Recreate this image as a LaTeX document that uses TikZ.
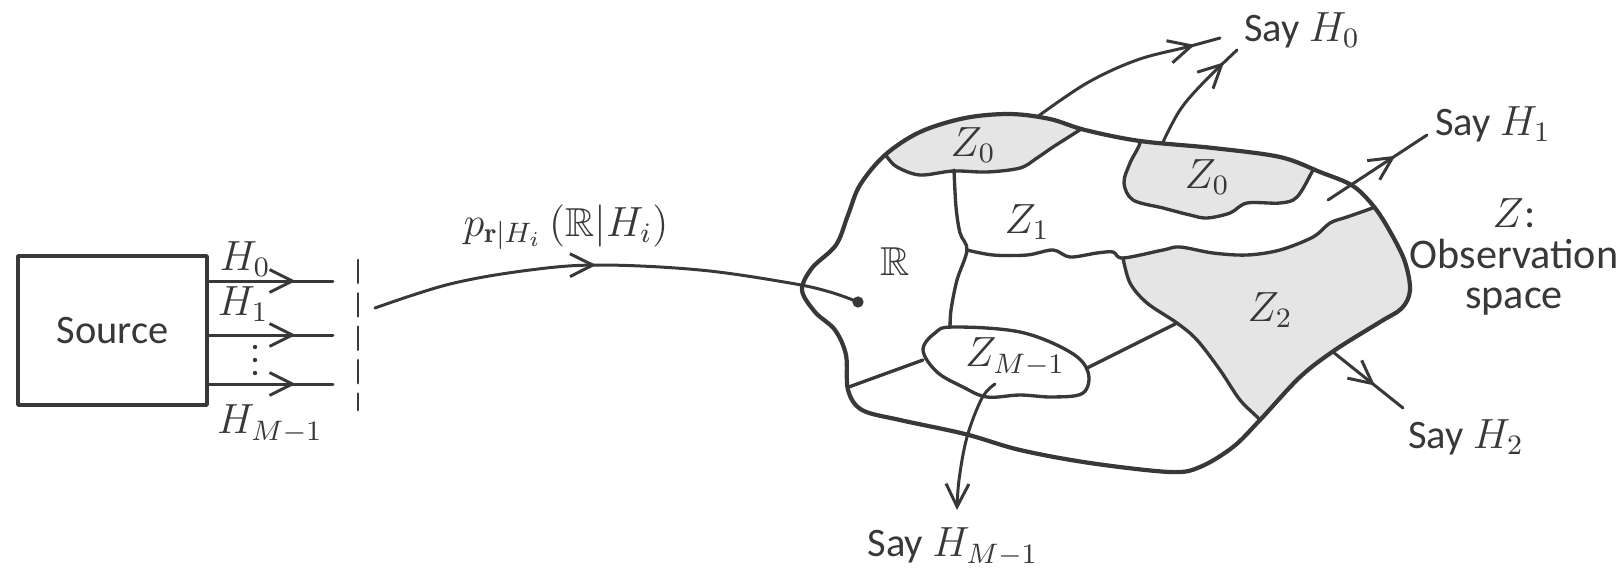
\documentclass[tikz,border=0pt]{standalone}
\usepackage{amssymb}
\usepackage{fontspec}
\setsansfont{Carlito}
\usetikzlibrary{arrows.meta,decorations.markings}
\definecolor{ink}{rgb}{0.22,0.22,0.22}
\definecolor{zonegray}{rgb}{0.9,0.9,0.9}
\tikzset{
  barb/.tip={Straight Barb[length=6.5pt,width=6.5pt]},
  txt/.style={font=\sffamily\fontsize{11.5}{11.8}\selectfont,text=ink,inner sep=1pt},
  outline/.style={draw=ink,line width=1.2pt,line join=round},
  seam/.style={draw=ink,line width=0.95pt,line join=round},
  wire/.style={draw=ink,line width=0.85pt},
  midarrow/.style={postaction={decorate},decoration={markings,mark=at position #1 with {\arrow[ink,line width=0.85pt]{barb}}}}
}
\begin{document}
\begin{tikzpicture}[line cap=round,line join=round,x=0.01cm,y=-0.01cm]
\useasboundingbox (0,0) rectangle (1621,581);
% source and its outputs
\node[draw=ink,line width=0.95pt,minimum width=1.89cm,minimum height=1.49cm,txt] (src) at (112.5,330.5) {Source};
\coordinate (h0) at (333,281);
\coordinate (h1) at (333,335);
\coordinate (hm) at (333,384);
\draw[wire,midarrow=0.7] (src.east |- h0) -- (h0);
\draw[wire,midarrow=0.7] (src.east |- h1) -- (h1);
\draw[wire,midarrow=0.7] (src.east |- hm) -- (hm);
\node[txt,inner sep=0pt] (lh0) at (245,259) {$H_0$};
\node[txt,inner sep=0pt] (lh1) at (243,304) {$H_1$};
\foreach \y in {347,360,373}
  \fill[ink] (255,\y) circle (2.2);
\node[txt,inner sep=0pt] (lhm) at (270,424) {$H_{M-1}$};
\draw[wire,dash pattern=on 6.5pt off 3pt] (358,260) -- (358,410);
% transition to the observation space
\node[txt] (trans) at (566,227) {$p_{\mathbf{r}|H_i}\,(\mathbb{R}|H_i)$};
\coordinate (tx) at (375,308);
\node[circle,fill=ink,inner sep=0pt,minimum size=3.2pt] (pt) at (858,302) {};
\draw[wire,midarrow=0.46] plot[smooth,tension=0.6] coordinates {(tx) (450,284) (530,270) (600,265) (700,270) (790,283) (830,292) (pt)};
% outer boundary
\def\outer{plot[smooth cycle,tension=0.55] coordinates {(802,290) (812,268) (836,245) (848,215) (860,185) (885,155) (920,132) (965,118) (1010,114) (1050,119) (1085,130) (1140,141) (1213,148) (1280,157) (1320,172) (1353,186) (1375,208) (1392,235) (1405,262) (1410,290) (1402,308) (1380,322) (1335,350) (1300,377) (1260,420) (1233,447) (1200,467) (1170,472) (1090,463) (1020,450) (965,434) (900,420) (862,410) (848,390) (846,355) (835,330) (815,312)}}
\begin{scope}
\clip \outer;
% shaded decision regions
\fill[zonegray] plot[smooth,tension=0.55] coordinates {(875,142) (887,157) (897,167) (920,175) (953,171) (987,172) (1020,168) (1037,158) (1053,147) (1075,133) (1092,122)} -- (1092,60) -- (875,60) -- cycle;
\fill[zonegray] plot[smooth,tension=0.55] coordinates {(1142,122) (1140,143) (1130,163) (1124,183) (1133,200) (1163,208) (1190,215) (1207,218) (1230,213) (1247,203) (1280,203) (1297,197) (1313,170) (1324,148)} -- (1324,60) -- (1142,60) -- cycle;
\fill[zonegray] plot[smooth,tension=0.55] coordinates {(1123,258) (1163,250) (1180,247) (1213,253) (1247,255) (1280,250) (1313,237) (1330,223) (1347,217) (1367,210) (1400,198)} -- (1470,198) -- (1470,480) -- (1280,445) -- plot[smooth,tension=0.55] coordinates {(1280,445) (1260,420) (1240,400) (1220,370) (1197,340) (1177,323) (1147,303) (1130,283) (1123,258)} -- cycle;
% region borders
\draw[seam] plot[smooth,tension=0.55] coordinates {(875,142) (887,157) (897,167) (920,175) (953,171) (987,172) (1020,168) (1037,158) (1053,147) (1075,133) (1092,122)};
\draw[seam] plot[smooth,tension=0.55] coordinates {(1142,122) (1140,143) (1130,163) (1124,183) (1133,200) (1163,208) (1190,215) (1207,218) (1230,213) (1247,203) (1280,203) (1297,197) (1313,170) (1324,148)};
\draw[seam] plot[smooth,tension=0.55] coordinates {(967,250) (993,255) (1027,255) (1053,250) (1070,257) (1097,253) (1113,252) (1123,258) (1163,250) (1180,247) (1213,253) (1247,255) (1280,250) (1313,237) (1330,223) (1347,217) (1367,210) (1400,198)};
\draw[seam] plot[smooth,tension=0.55] coordinates {(1123,258) (1130,283) (1147,303) (1177,323) (1197,340) (1220,370) (1240,400) (1260,420) (1280,445)};
\draw[seam] plot[smooth,tension=0.55] coordinates {(954,170) (956,207) (960,233) (967,250) (957,280) (951,310) (950,330)};
\draw[seam] (1177,323) -- (1087,368);
\draw[seam] (923,360) -- (835,392);
\draw[seam,fill=white] plot[smooth cycle,tension=0.6] coordinates {(923,350) (935,333) (953,327) (1020,332) (1070,352) (1088,372) (1083,393) (1053,397) (1020,395) (987,397) (963,387) (937,372)};
\end{scope}
\draw[outline] \outer;
% region names
\node[txt] (zr) at (895,262) {$\mathbb{R}$};
\node[txt] (za) at (973,145) {$Z_0$};
\node[txt] (zb) at (1207,177) {$Z_0$};
\node[txt] (zc) at (1027,222) {$Z_1$};
\node[txt] (zd) at (1270,310) {$Z_2$};
\node[txt] (ze) at (1015,357) {$Z_{M-1}$};
\node[txt,align=center,font=\sffamily\fontsize{12}{11.6}\selectfont] (obs) at (1514,257) {$Z$:\\Observation\\space};
% decisions
\node[txt] (say0) at (1302,30) {Say $H_0$};
\node[txt] (say1) at (1493,124) {Say $H_1$};
\node[txt] (say2) at (1466,437) {Say $H_2$};
\node[txt] (saym) at (953,547) {Say $H_{M-1}$};
\coordinate (a0) at (1037,117);
\coordinate (b0) at (1220,38);
\coordinate (a1) at (1163,142);
\coordinate (b1) at (1237,50);
\coordinate (a2) at (1328,200);
\coordinate (b2) at (1427,135);
\coordinate (a3) at (1333,352);
\coordinate (b3) at (1403,408);
\coordinate (a4) at (995,384);
\draw[wire,midarrow=0.87] plot[smooth,tension=0.6] coordinates {(a0) (1087,83) (1137,60) (1187,47) (b0)};
\draw[wire,midarrow=0.85] plot[smooth,tension=0.6] coordinates {(a1) (1180,110) (1203,83) (b1)};
\draw[wire,midarrow=0.68] (a2) -- (b2);
\draw[wire,midarrow=0.6] (a3) -- (b3);
\draw[wire,-{barb}] plot[smooth,tension=0.6] coordinates {(a4) (982,398) (967,437) (959,480) (957,510)};
\end{tikzpicture}
\end{document}
